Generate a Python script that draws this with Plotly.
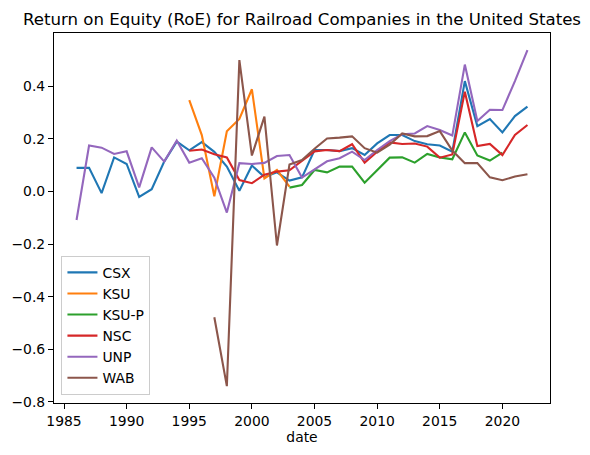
import plotly.graph_objects as go

# Return on equity by year
CSX_START = 1986
CSX = [0.09, 0.09, -0.006, 0.13, 0.105, -0.02, 0.009, 0.114, 0.19, 0.157,
       0.188, 0.151, 0.095, 0.003, 0.099, 0.055, 0.073, 0.042, 0.054, 0.158,
       0.158, 0.154, 0.165, 0.139, 0.183, 0.215, 0.215, 0.192, 0.18, 0.175,
       0.152, 0.42, 0.249, 0.276, 0.225, 0.287, 0.323]

KSU_START = 1995
KSU = [0.348, 0.215, -0.018, 0.229, 0.276, 0.389, 0.05, 0.082, 0.019]

KSUP_START = 2003
KSUP = [0.015, 0.025, 0.082, 0.073, 0.095, 0.095, 0.034, 0.082, 0.129, 0.13,
        0.11, 0.143, 0.13, 0.123, 0.225, 0.137, 0.118, 0.148]

NSC_START = 1995
NSC = [0.155, 0.16, 0.142, 0.13, 0.044, 0.032, 0.064, 0.076, 0.081, 0.117,
       0.153, 0.158, 0.154, 0.18, 0.11, 0.152, 0.187, 0.181, 0.183, 0.171,
       0.129, 0.141, 0.38, 0.173, 0.181, 0.139, 0.215, 0.253]

UNP_START = 1986
UNP = [-0.108, 0.175, 0.167, 0.143, 0.153, 0.016, 0.168, 0.114, 0.194, 0.11,
       0.127, 0.053, -0.08, 0.108, 0.105, 0.109, 0.135, 0.139, 0.053, 0.085,
       0.115, 0.127, 0.152, 0.12, 0.158, 0.192, 0.218, 0.221, 0.249, 0.234,
       0.213, 0.483, 0.268, 0.311, 0.31, 0.42, 0.538]

WAB_START = 1997
WAB = [-0.478, -0.74, 0.5, 0.137, 0.285, -0.205, 0.103, 0.12, 0.163, 0.202,
       0.205, 0.21, 0.165, 0.148, 0.178, 0.221, 0.21, 0.211, 0.23, 0.156,
       0.108, 0.108, 0.054, 0.043, 0.057, 0.066]

SERIES = [
    ('CSX', CSX_START, CSX, '#1f77b4'),
    ('KSU', KSU_START, KSU, '#ff7f0e'),
    ('KSU-P', KSUP_START, KSUP, '#2ca02c'),
    ('NSC', NSC_START, NSC, '#d62728'),
    ('UNP', UNP_START, UNP, '#9467bd'),
    ('WAB', WAB_START, WAB, '#8c564b'),
]

FONT = 'DejaVu Sans'

fig = go.Figure()
for name, start, values, color in SERIES:
    years = list(range(start, start + len(values)))
    fig.add_trace(
        go.Scatter(x=years, y=values, mode='lines', name=name,
                   line=dict(color=color, width=2.1))
    )

axis_style = dict(
    showgrid=False, zeroline=False, showline=True, linecolor='black',
    linewidth=1.1, mirror=True, ticks='outside', ticklen=5, tickwidth=1.1,
    tickcolor='black', tickfont=dict(family=FONT, size=13.9, color='black'),
    automargin=False,
)

# page adds ~7px offset, so margins are shifted up/left to compensate
fig.update_layout(
    width=590, height=455,
    margin=dict(l=46, r=48, t=25, b=60),
    paper_bgcolor='white', plot_bgcolor='white',
    font=dict(family=FONT, color='black'),
    title=dict(text='Return on Equity (RoE) for Railroad Companies in the United States',
               x=294 / 590, xanchor='center', y=1 - 11 / 455, yanchor='middle',
               yref='container', font=dict(family=FONT, size=16.6, color='black')),
    legend=dict(x=0.015, y=0.022, xanchor='left', yanchor='bottom',
                bgcolor='rgba(255,255,255,0.8)', bordercolor='#cccccc', borderwidth=1,
                font=dict(family=FONT, size=13.9, color='black'), itemwidth=30),
    showlegend=True,
)
fig.update_xaxes(range=[1984.2, 2023.8], tickvals=[1985, 1990, 1995, 2000, 2005, 2010, 2015, 2020],
                 title=dict(text='date', standoff=4, font=dict(family=FONT, size=13.9)),
                 **axis_style)
fig.update_yaxes(range=[-0.804, 0.603], tickvals=[-0.8, -0.6, -0.4, -0.2, 0.0, 0.2, 0.4],
                 tickformat='.1f', **axis_style)

fig.write_html('out.html')
